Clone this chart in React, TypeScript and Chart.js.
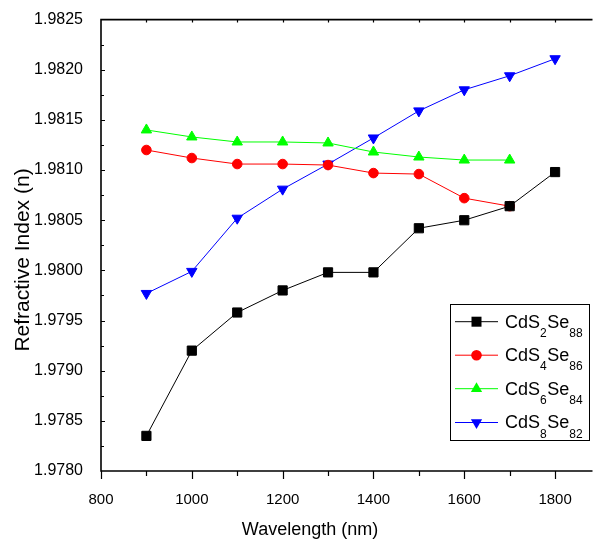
import { useEffect, useRef } from 'react';
import { Chart, registerables } from 'chart.js';

Chart.register(...registerables);

// ---------- data ----------
const wavelengths = [900, 1000, 1100, 1200, 1300, 1400, 1500, 1600, 1700, 1800];
const cds2se88 = [1.97835, 1.9792, 1.97958, 1.9798, 1.97998, 1.97998, 1.98042, 1.9805, 1.98064, 1.98098];
const cds4se86 = [1.9812, 1.98112, 1.98106, 1.98106, 1.98105, 1.98097, 1.98096, 1.98072, 1.98064];
const cds6se84 = [1.9814, 1.98133, 1.98128, 1.98128, 1.98127, 1.98118, 1.98113, 1.9811, 1.9811];
const cds8se82 = [1.97977, 1.97999, 1.98052, 1.98081, 1.98106, 1.98132, 1.98159, 1.9818, 1.98194, 1.98211];

const seriesValues = [cds2se88, cds4se86, cds6se84, cds8se82];
const seriesLabels = ['CdS₂Se₈₈', 'CdS₄Se₈₆', 'CdS₆Se₈₄', 'CdS₈Se₈₂'];
const seriesLabelParts = [
  ['CdS', '2', 'Se', '88'],
  ['CdS', '4', 'Se', '86'],
  ['CdS', '6', 'Se', '84'],
  ['CdS', '8', 'Se', '82'],
];
const seriesColors = ['#000000', '#ff0000', '#00ff00', '#0000ff'];
const seriesMarkers = ['rect', 'circle', 'triangle', 'triangleDown'];

const xTickValues = [800, 1000, 1200, 1400, 1600, 1800];
const yTickValues = [1.978, 1.9785, 1.979, 1.9795, 1.98, 1.9805, 1.981, 1.9815, 1.982, 1.9825];
const xMin = 800;
const xMax = 1878;
const yMin = 1.978;
const yMax = 1.9825;

const xTitle = 'Wavelength (nm)';
const yTitle = 'Refractive Index (n)';

const FONT = '"Liberation Sans", Arial, sans-serif';

// ---------- helpers ----------
function drawMarker(ctx: CanvasRenderingContext2D, kind: string, x: number, y: number, color: string) {
  ctx.save();
  ctx.fillStyle = color;
  ctx.beginPath();
  if (kind === 'rect') {
    ctx.rect(x - 5, y - 5, 10, 10);
  } else if (kind === 'circle') {
    ctx.arc(x, y, 5.3, 0, Math.PI * 2);
  } else if (kind === 'triangle' || kind === 'triangleDown') {
    const r = 6.5;
    const s = kind === 'triangle' ? 1 : -1;
    ctx.moveTo(x, y - s * r);
    ctx.lineTo(x + r * 0.866, y + s * r * 0.5);
    ctx.lineTo(x - r * 0.866, y + s * r * 0.5);
    ctx.closePath();
  }
  ctx.fill();
  ctx.restore();
}

const framePlugin = {
  id: 'frameTicks',
  beforeDatasetsDraw(chart: any) {
    const { ctx, chartArea, scales } = chart;
    const { left, top, bottom, right } = chartArea;
    ctx.save();
    ctx.strokeStyle = '#000';
    ctx.lineWidth = 1.6;
    ctx.beginPath();
    ctx.moveTo(right + 2, top);
    ctx.lineTo(left, top);
    ctx.lineTo(left, bottom);
    ctx.lineTo(right + 2, bottom);
    ctx.stroke();

    ctx.lineWidth = 1.2;
    ctx.beginPath();
    // x ticks: bottom outward, top inward
    for (let v = xMin; v <= 1800; v += 100) {
      const px = Math.round(scales.x.getPixelForValue(v)) + 0.5;
      const major = v % 200 === 0;
      ctx.moveTo(px, bottom);
      ctx.lineTo(px, bottom + (major ? 8 : 5));
      if (v !== xMin) {
        ctx.moveTo(px, top);
        ctx.lineTo(px, top + 3);
      }
    }
    // y ticks: inward on left
    for (let i = 1; i < 18; i++) {
      const v = yMin + i * 0.00025;
      const py = Math.round(scales.y.getPixelForValue(v)) + 0.5;
      ctx.moveTo(left, py);
      ctx.lineTo(left + (i % 2 === 0 ? 4 : 3), py);
    }
    ctx.stroke();
    ctx.restore();
  },
  afterDraw(chart: any) {
    const { ctx } = chart;
    ctx.save();
    // axis titles
    ctx.fillStyle = '#000';
    ctx.font = `18px ${FONT}`;
    ctx.textAlign = 'center';
    ctx.textBaseline = 'alphabetic';
    ctx.fillText(xTitle, 310, 535);

    ctx.save();
    ctx.translate(29, 260);
    ctx.rotate(-Math.PI / 2);
    ctx.font = `21px ${FONT}`;
    ctx.fillText(yTitle, 0, 0);
    ctx.restore();

    // legend
    const bx = 450.5, by = 304.5, bw = 139, bh = 136;
    ctx.fillStyle = '#fff';
    ctx.fillRect(bx, by, bw, bh);
    ctx.strokeStyle = '#000';
    ctx.lineWidth = 1;
    ctx.strokeRect(bx, by, bw, bh);
    const rowYs = [321.7, 355.2, 388.7, 422.5];
    seriesLabelParts.forEach((parts, i) => {
      const ry = rowYs[i];
      ctx.strokeStyle = seriesColors[i];
      ctx.lineWidth = 1;
      ctx.beginPath();
      ctx.moveTo(455, ry);
      ctx.lineTo(498, ry);
      ctx.stroke();
      drawMarker(ctx, seriesMarkers[i], 476.5, ry, seriesColors[i]);
      ctx.fillStyle = '#000';
      ctx.textAlign = 'left';
      ctx.textBaseline = 'alphabetic';
      let x = 505;
      const base = ry + 5.8;
      parts.forEach((p, k) => {
        const sub = k % 2 === 1;
        ctx.font = sub ? `12px ${FONT}` : `18px ${FONT}`;
        ctx.fillText(p, x, sub ? base + 9.4 : base);
        x += ctx.measureText(p).width + (sub ? 0.5 : 0);
      });
    });
    ctx.restore();
  },
};

export default function App() {
  const canvasRef = useRef<HTMLCanvasElement | null>(null);

  useEffect(() => {
    const canvas = canvasRef.current;
    if (!canvas) return;
    const datasets = seriesValues.map((vals, i) => {
      const marker = seriesMarkers[i];
      return {
        label: seriesLabels[i],
        data: vals.map((v, j) => ({ x: wavelengths[j], y: v })),
        borderColor: seriesColors[i],
        backgroundColor: seriesColors[i],
        borderWidth: 1,
        pointBackgroundColor: seriesColors[i],
        pointBorderColor: seriesColors[i],
        pointBorderWidth: 1,
        pointStyle: marker === 'triangleDown' ? 'triangle' : marker,
        pointRotation: marker === 'triangleDown' ? 180 : 0,
        pointRadius: marker === 'rect' ? 6.5 : marker === 'circle' ? 4.8 : 6,
        tension: 0,
      };
    });
    const chart = new Chart(canvas, {
      type: 'line',
      data: { datasets },
      options: {
        animation: false,
        responsive: false,
        devicePixelRatio: 1,
        layout: { padding: { top: 19, right: 0, bottom: 0, left: 0 } },
        plugins: { legend: { display: false }, tooltip: { enabled: false }, title: { display: false } },
        scales: {
          x: {
            type: 'linear',
            min: xMin,
            max: xMax,
            grid: { display: false },
            border: { display: false },
            ticks: {
              color: '#000',
              font: { size: 15, family: FONT },
              padding: 12,
              callback: (v: any) => String(v),
            },
            afterBuildTicks: (s: any) => {
              s.ticks = xTickValues.map((v) => ({ value: v }));
            },
            afterFit: (s: any) => {
              s.height = 69;
            },
          },
          y: {
            type: 'linear',
            min: yMin,
            max: yMax,
            grid: { display: false },
            border: { display: false },
            ticks: {
              color: '#000',
              font: { size: 16, family: FONT },
              padding: 10,
              callback: (v: any) => Number(v).toFixed(4),
            },
            afterBuildTicks: (s: any) => {
              s.ticks = yTickValues.map((v) => ({ value: v }));
            },
            afterFit: (s: any) => {
              s.width = 101;
            },
          },
        },
      },
      plugins: [framePlugin],
    } as any);
    return () => chart.destroy();
  }, []);

  return (
    <div style={{ position: 'absolute', left: 0, top: 0, width: 598, height: 540, background: '#fff' }}>
      <canvas ref={canvasRef} width={598} height={540} style={{ display: 'block' }} />
    </div>
  );
}
